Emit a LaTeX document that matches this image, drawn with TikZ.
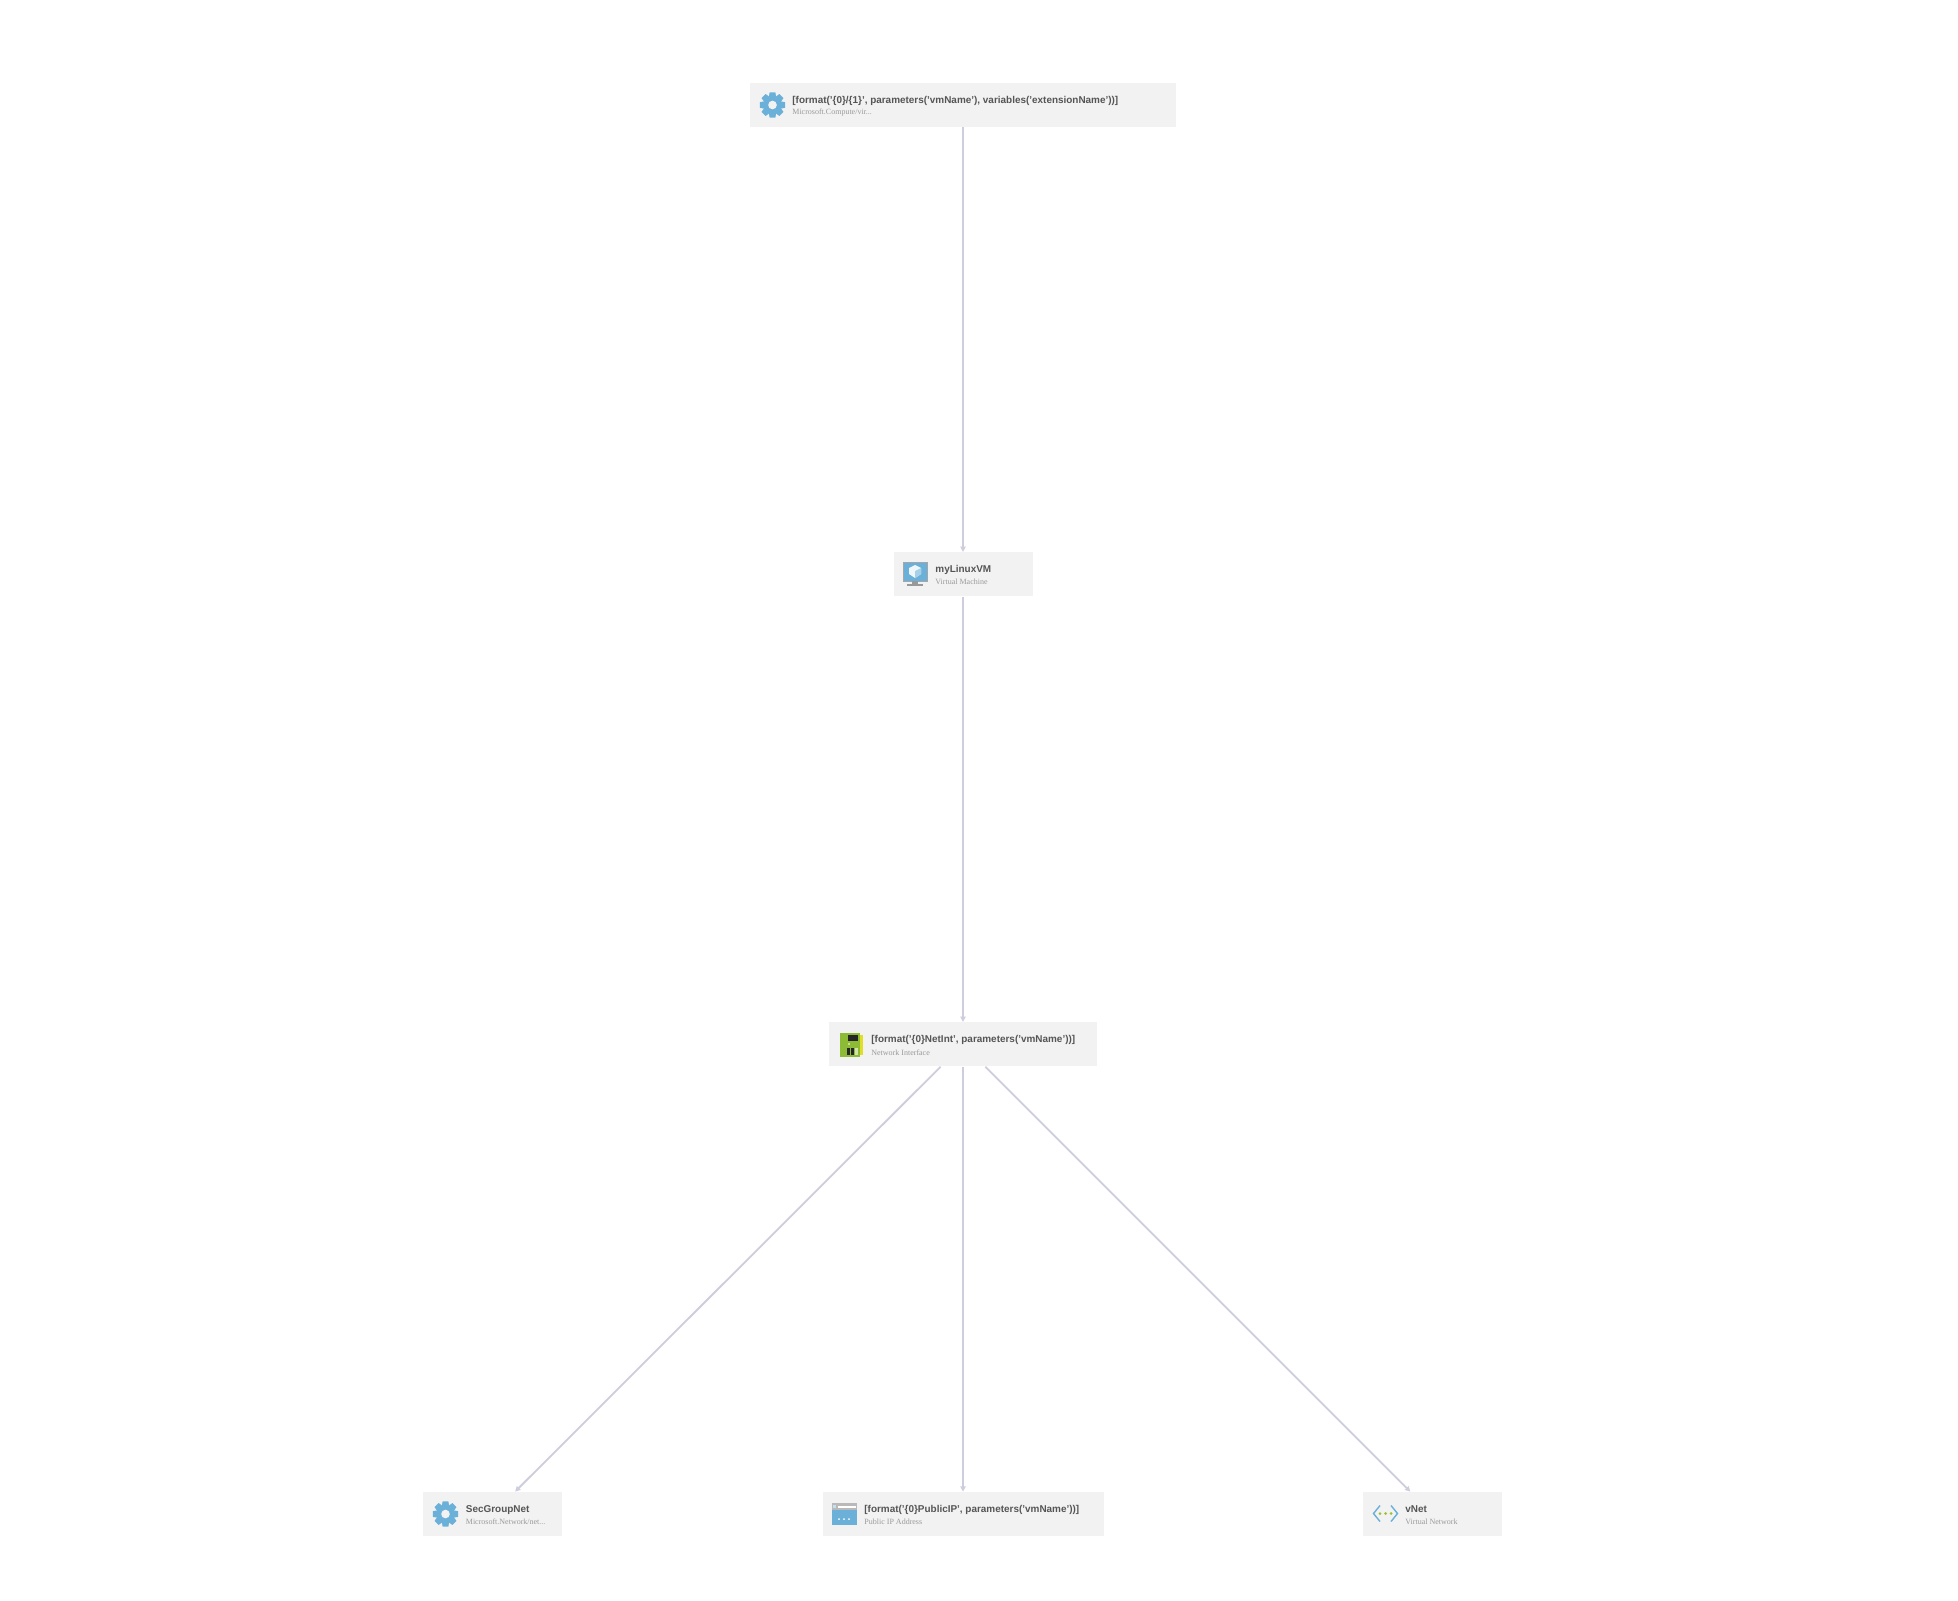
\documentclass[tikz,border=0pt]{standalone}
\usepackage{fontspec}
\setmainfont{Liberation Sans}
\newfontfamily\subfont{Liberation Serif}
\usetikzlibrary{arrows.meta}
\definecolor{boxfill}{HTML}{F2F2F2}
\definecolor{edgecol}{HTML}{CDCDDE}
\definecolor{titlecol}{HTML}{555555}
\definecolor{subcol}{HTML}{9A9A9A}
\definecolor{azure}{HTML}{6BB0D8}
\definecolor{nicgreen}{HTML}{8DBB35}
\tikzset{
  x=0.5pt,y=-0.5pt,
  resbox/.style={fill=boxfill,draw=none,inner sep=0pt,minimum height=22pt,anchor=center},
  ttl/.style={anchor=west,inner sep=0pt,text=titlecol,font=\fontsize{4.97}{6}\selectfont\bfseries},
  sub/.style={anchor=west,inner sep=0pt,text=subcol,font=\fontsize{4}{5}\subfont},
  link/.style={draw=edgecol,line width=0.9pt,-{Triangle[length=2.6pt,width=2.6pt]}},
  gear/.pic={
    \fill[azure] (0,0) circle[radius=9.2];
    \foreach \a in {0,45,...,315}{
      \fill[azure,rotate=\a] (-2.9,-12.6) -- (2.9,-12.6) -- (3.8,-7) -- (-3.8,-7) -- cycle;
    }
    \fill[boxfill] (0,0) circle[radius=4.3];
  }
}
\begin{document}
\begin{tikzpicture}
\useasboundingbox (0,0) rectangle (1958,1600);
\fill[white] (0,0) rectangle (1958,1600);
\node[resbox,minimum width=213pt] (ext) at (963,105) {};
\node[resbox,minimum width=69.5pt] (vm) at (963,574.3) {};
\node[resbox,minimum width=134pt] (nic) at (963,1044.3) {};
\node[resbox,minimum width=69.5pt] (sg) at (492.7,1514) {};
\node[resbox,minimum width=140.5pt] (pip) at (963,1514) {};
\node[resbox,minimum width=69.5pt] (vnet) at (1432.7,1514) {};

\draw[link] (ext) -- (vm);
\draw[link] (vm) -- (nic);
\draw[link] (nic) -- (sg);
\draw[link] (nic) -- (pip);
\draw[link] (nic) -- (vnet);

\node[ttl] (t1) at (792,100.8) {[format('\{0\}/\{1\}', parameters('vmName'), variables('extensionName'))]};
\node[sub] (s1) at (792,113) {Microsoft.Compute/vir...};
\node[ttl] (t2) at (935,569.8) {myLinuxVM};
\node[sub] (s2) at (935,581.8) {Virtual Machine};
\node[ttl] (t3) at (871,1040) {[format('\{0\}NetInt', parameters('vmName'))]};
\node[sub] (s3) at (871,1052.3) {Network Interface};
\node[ttl] (t4) at (465.5,1509.6) {SecGroupNet};
\node[sub] (s4) at (465.5,1521.8) {Microsoft.Network/net...};
\node[ttl] (t5) at (864,1509.6) {[format('\{0\}PublicIP', parameters('vmName'))]};
\node[sub] (s5) at (864,1521.8) {Public IP Address};
\node[ttl] (t6) at (1405,1509.6) {vNet};
\node[sub] (s6) at (1405,1521.8) {Virtual Network};

% gears
\pic at (772.5,105) {gear};
\pic at (445.5,1514) {gear};

% monitor
\fill[azure] (903,562) rectangle (927,581);
\draw[black!35,line width=0.5pt] (903,562) rectangle (927,581);
\fill[white!90!azure] (915,565) -- (921,568) -- (921,574) -- (915,578) -- (909,574) -- (909,568) -- cycle;
\fill[azure!60] (915,571) -- (921,568) -- (921,574) -- (915,578) -- cycle;
\fill[gray!80] (912,581) rectangle (918,584);
\fill[gray!80] (907,584) rectangle (923,586);

% network card
\fill[nicgreen] (840,1033) rectangle (860,1057);
\fill[yellow!70!nicgreen] (860,1035) rectangle (862.5,1055);
\fill[black!85] (848,1034.5) rectangle (858,1041);
\fill[black!85] (847,1048) rectangle (849.5,1054.5);
\fill[black!85] (851,1048) rectangle (853.5,1054.5);
\fill[white!60!nicgreen] (855,1048) rectangle (857.5,1054.5);
\fill[white!50!nicgreen] (848,1043) rectangle (850,1045);

% public ip
\fill[azure] (832,1503) rectangle (857,1525);
\fill[gray!55] (832,1503) rectangle (857,1510);
\fill[white] (838,1505.5) rectangle (856,1508);
\fill[white!60!azure] (833,1504.5) rectangle (836,1507.5);
\foreach \p in {839,844,849}{\fill[white] (\p,1519) circle[radius=1];}

% vnet
\draw[azure,line width=0.7pt] (1380,1505.5) -- (1373.5,1513.5) -- (1380,1521.5);
\draw[azure,line width=0.7pt] (1391,1505.5) -- (1397.5,1513.5) -- (1391,1521.5);
\foreach \p in {1380,1385.5,1391}{\fill[nicgreen!90!yellow] (\p,1513.5) circle[radius=1.5];}
\end{tikzpicture}
\end{document}
